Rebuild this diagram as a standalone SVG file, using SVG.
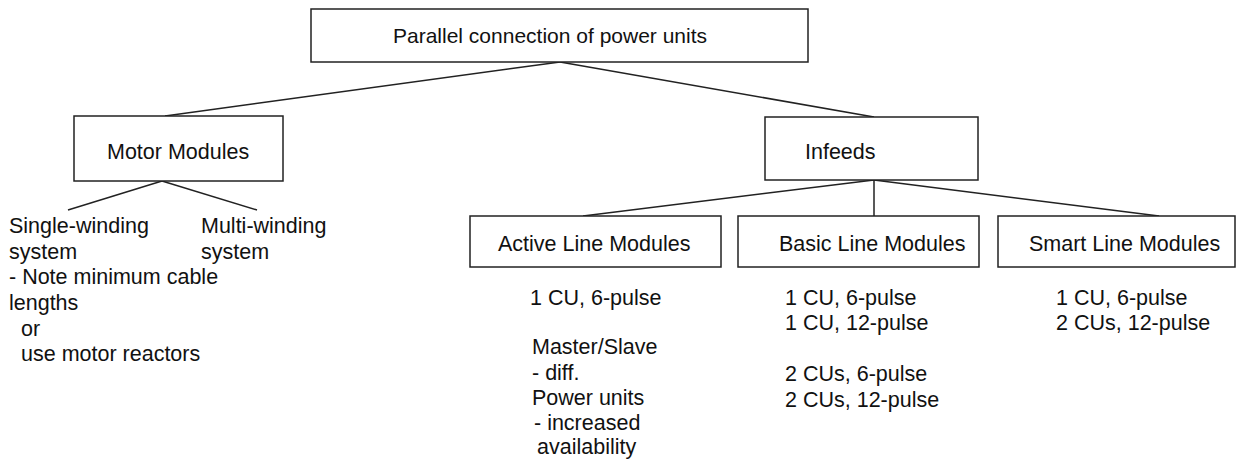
<svg xmlns="http://www.w3.org/2000/svg" width="1237" height="461" viewBox="0 0 1237 461">
<style>
.box{fill:#fff;stroke:#222;stroke-width:1.5}
.c{fill:none;stroke:#222;stroke-width:1.5}
text{font-family:"Liberation Sans",Arial,sans-serif;font-size:21.5px;fill:#111}
.t{font-size:21px}
</style>
<rect width="1237" height="461" fill="#fff"/>
<g id="connectors">
<line class="c" x1="560" y1="62" x2="165" y2="116"/>
<line class="c" x1="560" y1="62" x2="874" y2="117"/>
<line class="c" x1="162" y1="181" x2="68" y2="210"/>
<line class="c" x1="162" y1="181" x2="257" y2="210"/>
<line class="c" x1="874" y1="180" x2="583" y2="216"/>
<line class="c" x1="874" y1="180" x2="874" y2="216"/>
<line class="c" x1="874" y1="180" x2="1159" y2="216"/>
</g>
<g id="root">
<rect class="box" x="311" y="9" width="497" height="53"/>
<text class="t" x="393" y="43">Parallel connection of power units</text>
</g>
<g id="motor">
<rect class="box" x="74" y="116" width="209" height="65"/>
<text x="107" y="159">Motor Modules</text>
</g>
<g id="single">
<text x="9" y="233">Single-winding</text>
<text x="9" y="259">system</text>
<text x="9" y="284">- Note minimum cable</text>
<text x="9" y="310">lengths</text>
<text x="21" y="336">or</text>
<text x="21" y="361">use motor reactors</text>
</g>
<g id="multi">
<text x="201" y="233">Multi-winding</text>
<text x="201" y="259">system</text>
</g>
<g id="infeeds">
<rect class="box" x="765" y="117" width="213" height="63"/>
<text x="805" y="159">Infeeds</text>
</g>
<g id="active">
<rect class="box" x="470" y="216" width="251" height="51"/>
<text x="498" y="251">Active Line Modules</text>
<text x="530" y="305">1 CU, 6-pulse</text>
<text x="532" y="354">Master/Slave</text>
<text x="532" y="380">- diff.</text>
<text x="532" y="405">Power units</text>
<text x="534" y="430">- increased</text>
<text x="537" y="454">availability</text>
</g>
<g id="basic">
<rect class="box" x="738" y="216" width="241" height="51"/>
<text x="779" y="251">Basic Line Modules</text>
<text x="785" y="305">1 CU, 6-pulse</text>
<text x="785" y="330">1 CU, 12-pulse</text>
<text x="785" y="381">2 CUs, 6-pulse</text>
<text x="785" y="407">2 CUs, 12-pulse</text>
</g>
<g id="smart">
<rect class="box" x="998" y="216" width="237" height="51"/>
<text x="1029" y="251">Smart Line Modules</text>
<text x="1056" y="305">1 CU, 6-pulse</text>
<text x="1056" y="330">2 CUs, 12-pulse</text>
</g>
</svg>
